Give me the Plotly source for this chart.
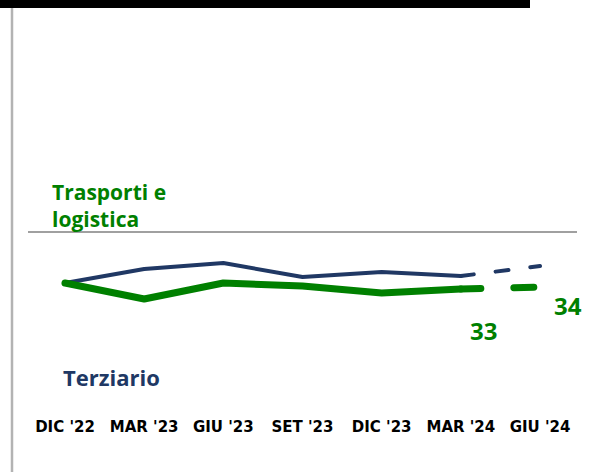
import plotly.graph_objects as go

periods = ["DIC '22", "MAR '23", "GIU '23", "SET '23", "DIC '23", "MAR '24", "GIU '24"]
terziario = [36, 43, 46, 39, 41.5, 39.5, 44.5]
trasporti = [36, 28, 36, 34.5, 31, 33, 34]
series_names = ["Terziario", "Trasporti e logistica"]

NAVY = "#203864"
GREEN = "#008000"
W, H = 589, 472
B = 56
PH = H - B

x = list(range(len(periods)))
fig = go.Figure()

# solid parts
fig.add_trace(go.Scatter(x=x[:-1], y=terziario[:-1], mode="lines",
                         line=dict(color=NAVY, width=4), hoverinfo="skip", showlegend=False))
fig.add_trace(go.Scatter(x=x[:-1], y=trasporti[:-1], mode="lines",
                         line=dict(color=GREEN, width=7), hoverinfo="skip", showlegend=False))
# dashed last segment
fig.add_trace(go.Scatter(x=x[-2:], y=terziario[-2:], mode="lines",
                         line=dict(color=NAVY, width=4, dash="13px,22px"), hoverinfo="skip", showlegend=False))
fig.add_trace(go.Scatter(x=x[-2:], y=trasporti[-2:], mode="lines",
                         line=dict(color=GREEN, width=7, dash="20px,33px"), hoverinfo="skip", showlegend=False))

def py(p):
    return 1 - p / PH

shapes = [
    dict(type="rect", xref="paper", yref="paper", x0=0, x1=530 / W, y0=py(8), y1=py(0),
         fillcolor="black", line=dict(width=0)),
    dict(type="line", xref="paper", yref="paper", x0=12 / W, x1=12 / W, y0=py(H), y1=py(8),
         line=dict(color="#b3b3b3", width=2.5)),
    dict(type="line", xref="paper", yref="paper", x0=28 / W, x1=577 / W, y0=py(232), y1=py(232),
         line=dict(color="#808080", width=1.5)),
]

annotations = [
    dict(text="Trasporti e<br>logistica", xref="paper", yref="paper", x=50 / W, y=py(176),
         xanchor="left", yanchor="top", align="left", showarrow=False,
         font=dict(family="Open Sans", size=21, color=GREEN, weight="bold")),
    dict(text=series_names[0], xref="paper", yref="paper", x=61 / W, y=py(377),
         xanchor="left", yanchor="middle", showarrow=False,
         font=dict(family="Open Sans", size=22, color=NAVY, weight="bold")),
    dict(text=str(trasporti[-2]), x=x[-2], y=trasporti[-2], xref="x", yref="y",
         xshift=23, yshift=-41, showarrow=False,
         font=dict(family="Open Sans", size=24, color=GREEN, weight="bold")),
    dict(text=str(trasporti[-1]), x=x[-1], y=trasporti[-1], xref="x", yref="y",
         xshift=28, yshift=-18, showarrow=False,
         font=dict(family="Open Sans", size=24, color=GREEN, weight="bold")),
]

step = 79.17
x0px = 65
fig.update_layout(
    width=W, height=H,
    margin=dict(l=0, r=0, t=0, b=B),
    paper_bgcolor="white", plot_bgcolor="white",
    shapes=shapes, annotations=annotations,
    xaxis=dict(range=[-x0px / step, (W - x0px) / step], tickvals=x, ticktext=periods,
               showgrid=False, zeroline=False, showline=False, ticks="", automargin=False,
               tickfont=dict(family="DejaVu Sans", size=15, color="black", weight="bold")),
    yaxis=dict(range=[33 - (PH - 289) / 2, 33 + 289 / 2], visible=False, showgrid=False,
               zeroline=False, automargin=False),
)

post = (
    "document.body.style.margin='0';document.body.style.overflow='hidden';"
    "var s=document.createElement('style');"
    "s.textContent='.js-line{stroke-linecap:round;stroke-linejoin:round;}';"
    "document.head.appendChild(s);"
)
fig.write_html("out.html", config={"displayModeBar": False, "staticPlot": True}, post_script=post)
